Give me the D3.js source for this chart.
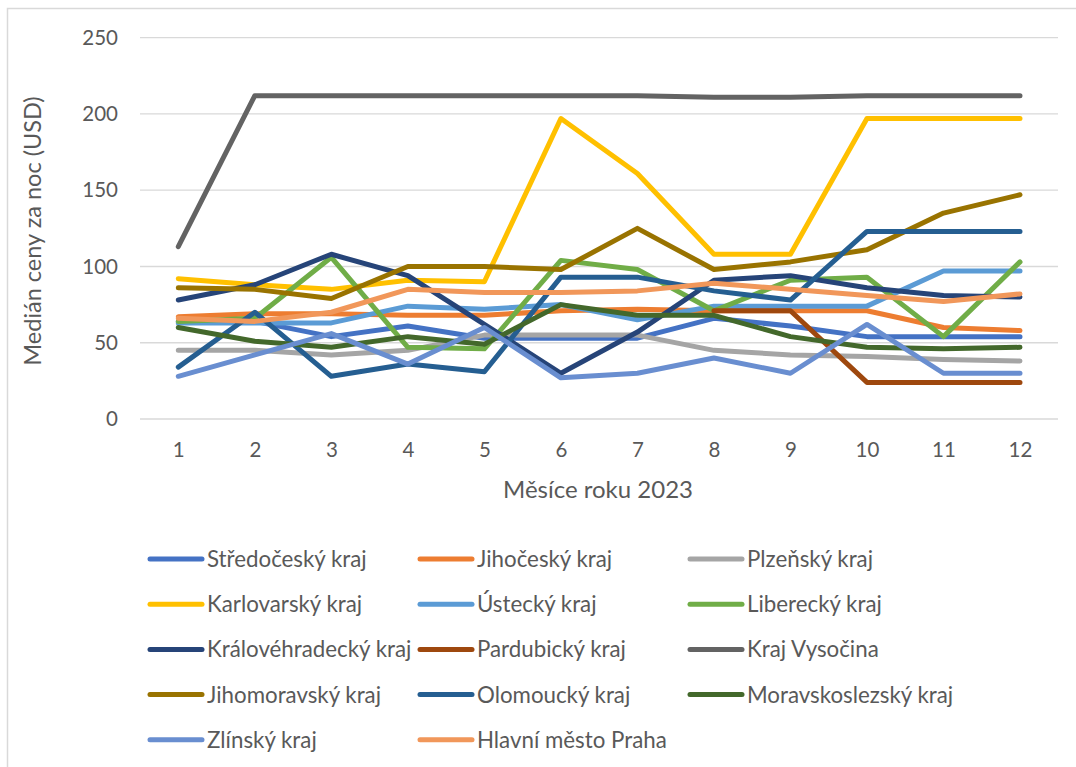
<!DOCTYPE html>
<html>
<head>
<meta charset="utf-8">
<script src="https://cdn.jsdelivr.net/npm/d3@7"></script>
<style>
  html, body { margin: 0; padding: 0; background: #fff; }
  svg { display: block; }
  text { font-family: Lato, "Open Sans", sans-serif; fill: #595959; }
</style>
</head>
<body>
<svg id="chart" width="1076" height="767"></svg>
<script>
// Months of 2023
const months = [1, 2, 3, 4, 5, 6, 7, 8, 9, 10, 11, 12];
const yTicks = [0, 50, 100, 150, 200, 250];

// Median nightly price (USD) per region
const stredocesky      = [64, 64, 54, 61, 53, 53, 53, 66, 61, 54, 54, 54];
const jihocesky        = [67, 69, 69, 68, 68, 71, 72, 71, 71, 71, 60, 58];
const plzensky         = [45, 45, 42, 45, 55, 55, 55, 45, 42, 41, 39, 38];
const karlovarsky      = [92, 88, 85, 91, 90, 197, 161, 108, 108, 197, 197, 197];
const ustecky          = [63, 63, 63, 74, 72, 75, 65, 74, 74, 74, 97, 97];
const liberecky        = [64, 66, 106, 47, 46, 104, 98, 71, 91, 93, 54, 103];
const kralovehradecky  = [78, 88, 108, 94, 62, 30, 57, 91, 94, 86, 81, 80];
const pardubicky       = [null, null, null, null, null, null, null, 71, 71, 24, 24, 24];
const vysocina         = [113, 212, 212, 212, 212, 212, 212, 211, 211, 212, 212, 212];
const jihomoravsky     = [86, 85, 79, 100, 100, 98, 125, 98, 103, 111, 135, 147];
const olomoucky        = [34, 70, 28, 36, 31, 93, 93, 84, 78, 123, 123, 123];
const moravskoslezsky  = [60, 51, 47, 54, 49, 75, 68, 68, 54, 47, 46, 47];
const zlinsky          = [28, 42, 56, 36, 60, 27, 30, 40, 30, 62, 30, 30];
const praha            = [66, 64, 70, 85, 83, 83, 84, 89, 85, 81, 77, 82];

const seriesNames = [
  "Středočeský kraj", "Jihočeský kraj", "Plzeňský kraj",
  "Karlovarský kraj", "Ústecký kraj", "Liberecký kraj",
  "Královéhradecký kraj", "Pardubický kraj", "Kraj Vysočina",
  "Jihomoravský kraj", "Olomoucký kraj", "Moravskoslezský kraj",
  "Zlínský kraj", "Hlavní město Praha"
];
const seriesValues = [
  stredocesky, jihocesky, plzensky, karlovarsky, ustecky, liberecky,
  kralovehradecky, pardubicky, vysocina, jihomoravsky, olomoucky,
  moravskoslezsky, zlinsky, praha
];
const seriesColors = [
  "#4472C4", "#ED7D31", "#A5A5A5", "#FFC000", "#5B9BD5", "#70AD47",
  "#264478", "#9E480E", "#636363", "#997300", "#255E91", "#43682B",
  "#698ED0", "#F1975A"
];

const svg = d3.select("#chart");

// outer chart frame
svg.append("rect")
  .attr("x", 7.5).attr("y", 8.5)
  .attr("width", 1100).attr("height", 800)
  .attr("fill", "none").attr("stroke", "#D9D9D9").attr("stroke-width", 1.5);

const plot = { left: 140, right: 1058, top: 37.7, bottom: 419 };

const x = d3.scalePoint()
  .domain(months)
  .range([178.3, 1020])
  .padding(0);

const y = d3.scaleLinear()
  .domain([0, 250])
  .range([plot.bottom, plot.top]);

// horizontal gridlines
svg.append("g")
  .selectAll("line")
  .data(yTicks)
  .join("line")
  .attr("x1", plot.left).attr("x2", plot.right)
  .attr("y1", d => y(d)).attr("y2", d => y(d))
  .attr("stroke", "#D9D9D9").attr("stroke-width", 1.3);

// y axis labels
const yAxis = svg.append("g")
  .attr("transform", `translate(118,0)`)
  .call(d3.axisLeft(y).tickValues(yTicks).tickSize(0).tickPadding(0));
yAxis.select(".domain").remove();
yAxis.selectAll("text")
  .attr("font-size", 20.5).attr("fill", "#595959")
  .style("font-family", "Lato, 'Open Sans', sans-serif");

// x axis labels
const xAxis = svg.append("g")
  .attr("transform", `translate(0,${plot.bottom})`)
  .call(d3.axisBottom(x).tickSize(0).tickPadding(23));
xAxis.select(".domain").remove();
xAxis.selectAll("text")
  .attr("font-size", 20.5).attr("fill", "#595959")
  .style("font-family", "Lato, 'Open Sans', sans-serif");

// axis titles
svg.append("text")
  .attr("x", 598).attr("y", 498)
  .attr("text-anchor", "middle")
  .attr("font-size", 24)
  .text("Měsíce roku 2023");

svg.append("text")
  .attr("transform", "translate(41,231) rotate(-90)")
  .attr("text-anchor", "middle")
  .attr("font-size", 23.5)
  .text("Medián ceny za noc (USD)");

// series lines
const line = d3.line()
  .defined(d => d.v !== null)
  .x(d => x(d.m))
  .y(d => y(d.v));

svg.append("g")
  .selectAll("path")
  .data(seriesValues.map((vals, i) => ({
    color: seriesColors[i],
    pts: vals.map((v, j) => ({ m: months[j], v }))
  })))
  .join("path")
  .attr("d", d => line(d.pts))
  .attr("fill", "none")
  .attr("stroke", d => d.color)
  .attr("stroke-width", 5)
  .attr("stroke-linecap", "round")
  .attr("stroke-linejoin", "round");

// legend
const legend = svg.append("g");
const items = legend.selectAll("g")
  .data(seriesNames.map((n, i) => ({ name: n, color: seriesColors[i], i })))
  .join("g")
  .attr("transform", d => `translate(${150 + (d.i % 3) * 270},${559 + Math.floor(d.i / 3) * 45.2})`);

items.append("line")
  .attr("x1", 0).attr("x2", 52)
  .attr("y1", 0).attr("y2", 0)
  .attr("stroke", d => d.color)
  .attr("stroke-width", 5)
  .attr("stroke-linecap", "round");

items.append("text")
  .attr("x", 57).attr("y", 8)
  .attr("font-size", 22.3)
  .text(d => d.name);
</script>
</body>
</html>
